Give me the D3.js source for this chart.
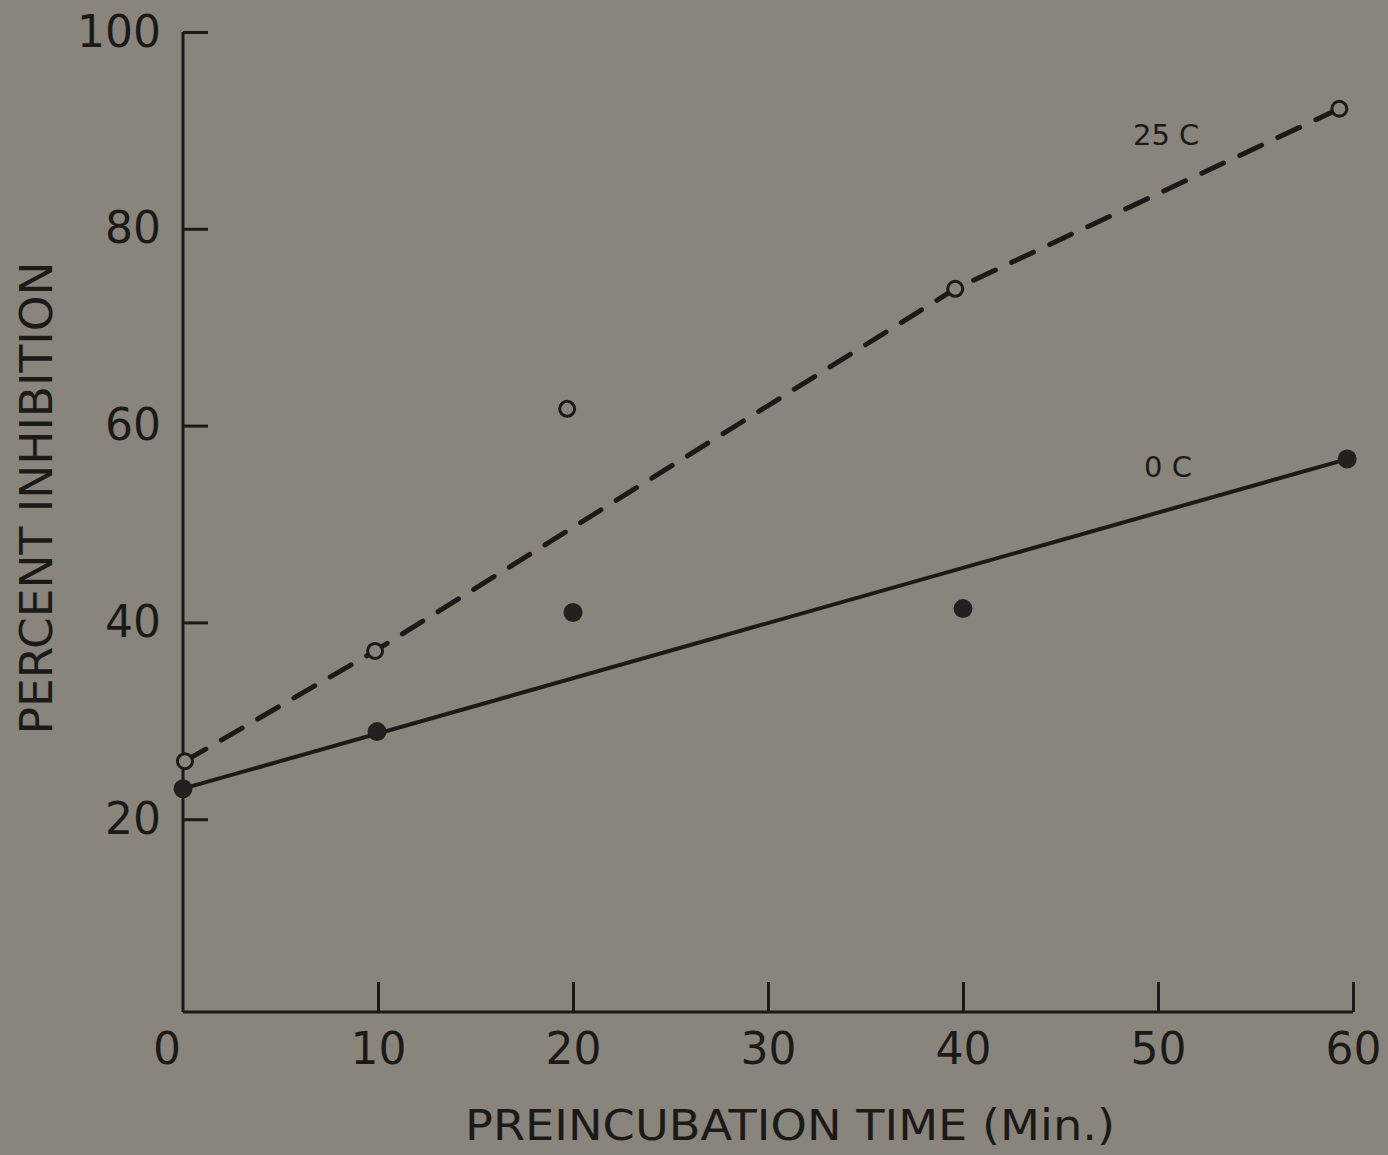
<!DOCTYPE html>
<html>
<head>
<meta charset="utf-8">
<script src="https://cdn.jsdelivr.net/npm/d3@7"></script>
<style>
  body { margin: 0; background: #8a857c; }
  svg { display: block; }
  text { font-family: "DejaVu Sans", sans-serif; fill: #1b1a18; }
</style>
</head>
<body>
<svg width="1388" height="1155"></svg>
<script>
// readings from the figure
const xTicks = [0, 10, 20, 30, 40, 50, 60];
const yTicks = [20, 40, 60, 80, 100];

// 25 C, open circles
const warmTime = [0.1, 9.85, 19.7, 39.6, 59.3];
const warmInhib = [25.9, 37.1, 61.7, 73.9, 92.2];
// 0 C, filled circles
const coldTime = [0, 9.95, 20, 40, 59.7];
const coldInhib = [23.1, 28.9, 41.0, 41.4, 56.6];

// hand-drawn lines (vertices)
const warmLine = [[0.1, 25.9], [9.85, 37.1], [39.6, 73.9], [59.3, 92.2]];
const coldLine = [[0, 23.1], [59.7, 56.6]];

const svg = d3.select("svg");
const ink = "#1b1a18";

const x = d3.scaleLinear().domain([0, 60]).range([183, 1353]);
const y = d3.scaleLinear().domain([0, 100]).range([1016, 32]);
const axisY = 1012;

// y axis, ticks pointing into the plot
const yAxis = svg.append("g")
    .attr("transform", `translate(${x(0)},0)`)
    .call(d3.axisLeft(y).tickValues(yTicks).tickSize(-25).tickSizeOuter(0).tickPadding(22));
yAxis.select(".domain").attr("d", `M0,${y(100)}V${axisY}`);

// x axis, ticks pointing up
const xAxis = svg.append("g")
    .attr("transform", `translate(0,${axisY})`)
    .call(d3.axisBottom(x).tickValues(xTicks.slice(1)).tickSize(-30).tickSizeOuter(0).tickPadding(10));
xAxis.select(".domain").attr("d", `M${x(0)},0H${x(60)}`);

svg.selectAll(".domain, .tick line")
    .attr("stroke", ink)
    .attr("stroke-width", 3);

yAxis.selectAll(".tick text").attr("font-size", 44).attr("fill", ink);
xAxis.selectAll(".tick text").attr("font-size", 44).attr("fill", ink).attr("dy", "0.95em");

// the "0" label sits under the corner
svg.append("text")
    .attr("x", x(0) - 16)
    .attr("y", axisY + 10)
    .attr("dy", "0.95em")
    .attr("text-anchor", "middle")
    .attr("font-size", 44)
    .text("0");

// axis titles
svg.append("text")
    .attr("x", 790)
    .attr("y", 1140)
    .attr("text-anchor", "middle")
    .attr("font-size", 42)
    .attr("textLength", 650)
    .attr("lengthAdjust", "spacingAndGlyphs")
    .text("PREINCUBATION TIME (Min.)");

svg.append("text")
    .attr("transform", "translate(52,498) rotate(-90)")
    .attr("text-anchor", "middle")
    .attr("font-size", 44)
    .attr("textLength", 473)
    .attr("lengthAdjust", "spacingAndGlyphs")
    .text("PERCENT INHIBITION");

const line = d3.line().x(d => x(d[0])).y(d => y(d[1]));

svg.append("path")
    .attr("d", line(warmLine))
    .attr("fill", "none")
    .attr("stroke", ink)
    .attr("stroke-width", 5)
    .attr("stroke-linecap", "round")
    .attr("stroke-dasharray", "24,18");

svg.append("path")
    .attr("d", line(coldLine))
    .attr("fill", "none")
    .attr("stroke", ink)
    .attr("stroke-width", 4);

svg.append("g").selectAll("circle")
    .data(d3.zip(warmTime, warmInhib))
    .join("circle")
    .attr("cx", d => x(d[0]))
    .attr("cy", d => y(d[1]))
    .attr("r", 7.5)
    .attr("fill", "#8a857c")
    .attr("stroke", ink)
    .attr("stroke-width", 3);

svg.append("g").selectAll("circle")
    .data(d3.zip(coldTime, coldInhib))
    .join("circle")
    .attr("cx", d => x(d[0]))
    .attr("cy", d => y(d[1]))
    .attr("r", 9.5)
    .attr("fill", "#222120");

// series labels
svg.append("text")
    .attr("x", 1133).attr("y", 145)
    .attr("font-size", 29)
    .text("25 C");

svg.append("text")
    .attr("x", 1144).attr("y", 477)
    .attr("font-size", 29)
    .text("0 C");
</script>
</body>
</html>
